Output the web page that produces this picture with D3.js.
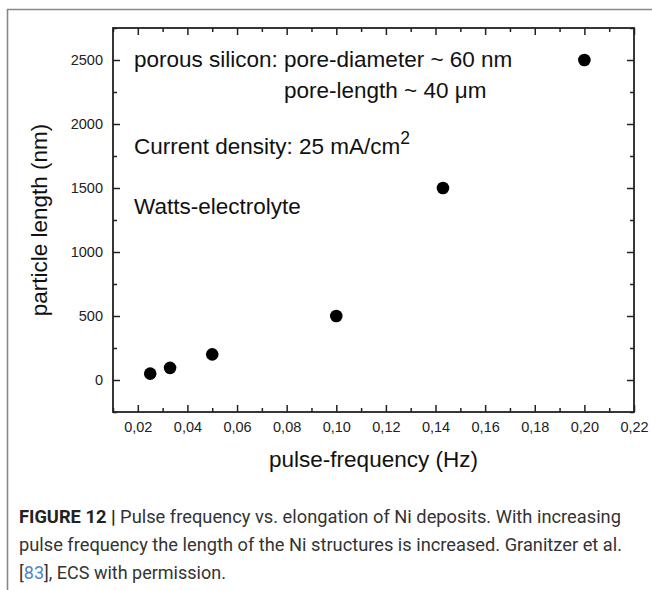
<!DOCTYPE html>
<html>
<head>
<meta charset="utf-8">
<script src="https://cdn.jsdelivr.net/npm/d3@7/dist/d3.min.js"></script>
<style>
  body { margin: 0; background: #fff; }
  svg { display: block; font-family: "Liberation Sans", Arial, sans-serif; }
</style>
</head>
<body>
<script>
// pulse frequency (Hz) vs. particle length (nm)
const freq = [0.025, 0.033, 0.05, 0.10, 0.143, 0.20];
const lengthNm = [50, 95, 200, 500, 1500, 2500];

const xMajor = [0.02, 0.04, 0.06, 0.08, 0.10, 0.12, 0.14, 0.16, 0.18, 0.20, 0.22];
const xMinor = [0.01, 0.03, 0.05, 0.07, 0.09, 0.11, 0.13, 0.15, 0.17, 0.19, 0.21];
const yMajor = [0, 500, 1000, 1500, 2000, 2500];
const yMinor = [-250, 250, 750, 1250, 1750, 2250, 2750];

const captionLines = [
    "Pulse frequency vs. elongation of Ni deposits. With increasing",
    "pulse frequency the length of the Ni structures is increased. Granitzer et al.",
    "ECS with permission."
];

const W = 652, H = 590;
const plot = {left: 113, top: 28, right: 634, bottom: 412};

const svg = d3.select("body").append("svg")
    .attr("width", W)
    .attr("height", H);

svg.append("rect").attr("width", W).attr("height", H).attr("fill", "#fff");

// panel border (runs off the right and bottom)
svg.append("path")
    .attr("d", `M7.5,${H + 5} V9.5 H${W + 5}`)
    .attr("fill", "none")
    .attr("stroke", "#888")
    .attr("stroke-width", 1.6);

const x = d3.scaleLinear().domain([0.01, 0.22]).range([plot.left, plot.right]);
const y = d3.scaleLinear().domain([-250, 2750]).range([plot.bottom, plot.top]);

const fmtX = d => d3.format(".2f")(d).replace(".", ",");
const fmtY = d3.format("d");

function styleAxis(g) {
    g.select(".domain").remove();
    g.selectAll("line").attr("stroke", "#222").attr("stroke-width", 1.5);
    g.selectAll("text").attr("fill", "#222").attr("font-size", 14.5)
        .attr("font-family", "Liberation Sans, Arial, sans-serif");
}

// bottom
svg.append("g").attr("transform", `translate(0,${plot.bottom})`)
    .call(d3.axisBottom(x).tickValues(xMajor).tickFormat(fmtX).tickSize(-7).tickPadding(10))
    .call(styleAxis);
svg.append("g").attr("transform", `translate(0,${plot.bottom})`)
    .call(d3.axisBottom(x).tickValues(xMinor).tickFormat("").tickSize(-4))
    .call(styleAxis);
// top
svg.append("g").attr("transform", `translate(0,${plot.top})`)
    .call(d3.axisTop(x).tickValues(xMajor).tickFormat("").tickSize(-7))
    .call(styleAxis);
svg.append("g").attr("transform", `translate(0,${plot.top})`)
    .call(d3.axisTop(x).tickValues(xMinor).tickFormat("").tickSize(-4))
    .call(styleAxis);
// left
svg.append("g").attr("transform", `translate(${plot.left},0)`)
    .call(d3.axisLeft(y).tickValues(yMajor).tickFormat(fmtY).tickSize(-7).tickPadding(10))
    .call(styleAxis);
svg.append("g").attr("transform", `translate(${plot.left},0)`)
    .call(d3.axisLeft(y).tickValues(yMinor).tickFormat("").tickSize(-4))
    .call(styleAxis);
// right
svg.append("g").attr("transform", `translate(${plot.right},0)`)
    .call(d3.axisRight(y).tickValues(yMajor).tickFormat("").tickSize(-7))
    .call(styleAxis);
svg.append("g").attr("transform", `translate(${plot.right},0)`)
    .call(d3.axisRight(y).tickValues(yMinor).tickFormat("").tickSize(-4))
    .call(styleAxis);

// frame
svg.append("rect")
    .attr("x", plot.left).attr("y", plot.top)
    .attr("width", plot.right - plot.left).attr("height", plot.bottom - plot.top)
    .attr("fill", "none").attr("stroke", "#222").attr("stroke-width", 1.8);

// points
svg.append("g").selectAll("circle")
    .data(freq.map((f, i) => [f, lengthNm[i]]))
    .join("circle")
    .attr("cx", d => x(d[0]))
    .attr("cy", d => y(d[1]))
    .attr("r", 6.3)
    .attr("fill", "#000");

// annotations
const note = svg.append("g").attr("fill", "#111").attr("font-size", 22.5);
note.append("text").attr("x", 134).attr("y", 67).text("porous silicon: pore-diameter ~ 60 nm");
note.append("text").attr("x", 284).attr("y", 98).text("pore-length ~ 40 \u03bcm");
const cd = note.append("text").attr("x", 134).attr("y", 154);
cd.append("tspan").text("Current density: 25 mA/cm");
cd.append("tspan").attr("font-size", 17.5).attr("dy", -10).text("2");
note.append("text").attr("x", 134).attr("y", 214).text("Watts-electrolyte");

// axis titles
svg.append("text")
    .attr("x", (plot.left + plot.right) / 2).attr("y", 467)
    .attr("text-anchor", "middle").attr("font-size", 22.5).attr("fill", "#111")
    .text("pulse-frequency (Hz)");
svg.append("text")
    .attr("transform", `translate(47,${(plot.top + plot.bottom) / 2}) rotate(-90)`)
    .attr("text-anchor", "middle").attr("font-size", 22.5).attr("fill", "#111")
    .text("particle length (nm)");

// caption
const cap = svg.append("g").attr("font-size", 18).attr("fill", "#333")
    .attr("font-family", "Roboto, 'Liberation Sans', sans-serif");
const l1 = cap.append("text").attr("x", 19).attr("y", 523)
    .attr("textLength", 602).attr("lengthAdjust", "spacingAndGlyphs");
l1.append("tspan").attr("font-weight", "bold").attr("fill", "#222").text("FIGURE 12 | ");
l1.append("tspan").text(captionLines[0]);
cap.append("text").attr("x", 19).attr("y", 551)
    .attr("textLength", 603).attr("lengthAdjust", "spacingAndGlyphs")
    .text(captionLines[1]);
const l3 = cap.append("text").attr("x", 19).attr("y", 579);
l3.append("tspan").text("[");
l3.append("tspan").attr("fill", "#4a86c5").text("83");
l3.append("tspan").text("], " + captionLines[2]);
</script>
</body>
</html>
